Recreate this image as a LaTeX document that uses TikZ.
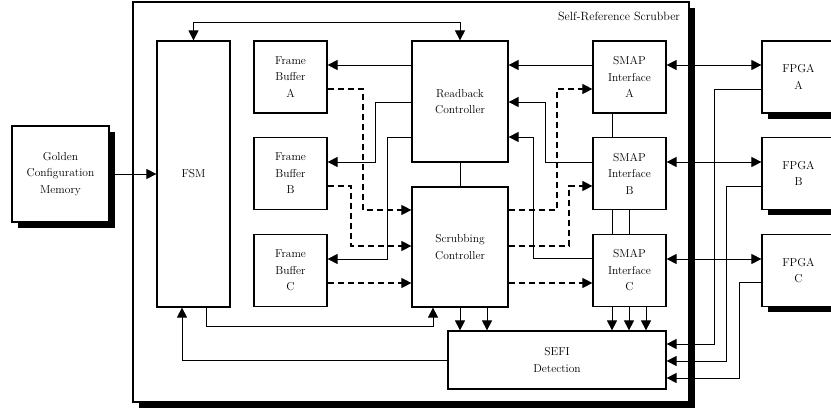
\documentclass[tikz,border=0pt]{standalone}
\usepackage{tikz}
\usetikzlibrary{arrows.meta,shadows}

\begin{document}
\begin{tikzpicture}[
    x=1pt, y=1pt,
    box/.style={rectangle,draw,line width=1.2pt,fill=white,align=center,inner sep=0pt,font=\fontsize{11.5}{16.5}\selectfont},
    shadowbox/.style={box,drop shadow={shadow xshift=6pt,shadow yshift=-6pt,opacity=1,fill=black}},
    unitbox/.style={box,minimum width=73pt,minimum height=72pt},
    ctrlbox/.style={box,minimum width=96pt},
    arrow/.style={-{Triangle[length=10pt,width=10pt]},line width=0.8pt},
    dblarrow/.style={{Triangle[length=10pt,width=10pt]}-{Triangle[length=10pt,width=10pt]},line width=0.8pt},
    dasharrow/.style={arrow,line width=1.1pt,dash pattern=on 6pt off 4pt},
    link/.style={line width=0.8pt}
]
\useasboundingbox (0,0) rectangle (831,410);

% Scrubber frame
\node[shadowbox,minimum width=556pt,minimum height=400pt] (scrubber) at (411,208) {};
\node[anchor=east,font=\fontsize{12}{14}\selectfont] (title) at ([xshift=-6pt,yshift=-15pt]scrubber.north east) {Self-Reference Scrubber};

% Memory and FSM
\node[shadowbox,minimum width=97pt,minimum height=96pt] (golden) at (60.5,236) {Golden\\Configuration\\Memory};
\node[box,minimum width=73pt,minimum height=266pt] (fsm) at (193.5,236) {FSM};

% Frame buffers
\node[unitbox] (fbA) at (290.5,333) {Frame\\Buffer\\A};
\node[unitbox] (fbB) at (290.5,236.5) {Frame\\Buffer\\B};
\node[unitbox] (fbC) at (290.5,139.5) {Frame\\Buffer\\C};

% Controllers
\node[ctrlbox,minimum height=121pt] (readback) at (460,308.5) {Readback\\Controller};
\node[ctrlbox,minimum height=120pt] (scrubbing) at (460,163) {Scrubbing\\Controller};

% SMAP interfaces
\node[unitbox] (smapA) at (629.5,333) {SMAP\\Interface\\A};
\node[unitbox] (smapB) at (629.5,236.5) {SMAP\\Interface\\B};
\node[unitbox] (smapC) at (629.5,139.5) {SMAP\\Interface\\C};

\node[box,minimum width=218pt,minimum height=58pt] (sefi) at (557,50) {SEFI\\Detection};

% FPGAs
\node[shadowbox,minimum width=73pt,minimum height=72pt] (fpgaA) at (798.5,333) {FPGA\\A};
\node[shadowbox,minimum width=73pt,minimum height=72pt] (fpgaB) at (798.5,236.5) {FPGA\\B};
\node[shadowbox,minimum width=73pt,minimum height=72pt] (fpgaC) at (798.5,139.5) {FPGA\\C};

% FSM links
\draw[arrow] (golden.east) -- (fsm.west);
\draw[dblarrow] (readback.north) -- (readback.north |- 0,388) -| (fsm.north);
\draw[arrow] (sefi.west) -| (fsm.south -| 182,0);
\draw[arrow] (fsm.south -| 206,0) |- (433,84) -- (scrubbing.south -| 433,0);

% Readback to frame buffers
\draw[arrow] (readback.west |- 0,345) -- (fbA.east |- 0,345);
\draw[arrow] (readback.west |- 0,308) -| (375,248) -- (fbB.east |- 0,248);
\draw[arrow] (readback.west |- 0,273) -| (387,151) -- (fbC.east |- 0,151);

% Frame buffers to scrubbing
\draw[dasharrow] (fbA.east |- 0,321) -| (363,200) -- (scrubbing.west |- 0,200);
\draw[dasharrow] (fbB.east |- 0,224) -| (351,164) -- (scrubbing.west |- 0,164);
\draw[dasharrow] (fbC.east |- 0,127) -- (scrubbing.west |- 0,127);
\draw[link] (readback.south) -- (scrubbing.north);

% SMAP to readback
\draw[arrow] (smapA.west |- 0,345) -- (readback.east |- 0,345);
\draw[arrow] (smapB.west |- 0,248) -| (545,308) -- (readback.east |- 0,308);
\draw[arrow] (smapC.west |- 0,152) -| (533,273) -- (readback.east |- 0,273);

% Scrubbing to SMAP
\draw[dasharrow] (scrubbing.east |- 0,200) -| (557,321) -- (smapA.west |- 0,321);
\draw[dasharrow] (scrubbing.east |- 0,164) -| (569,224) -- (smapB.west |- 0,224);
\draw[dasharrow] (scrubbing.east |- 0,127) -- (smapC.west |- 0,127);

\draw[link] (smapA.south -| 612,0) -- (smapB.north -| 612,0);
\draw[link] (smapB.south -| 612,0) -- (smapC.north -| 612,0);
\draw[link] (smapB.south -| 629,0) -- (smapC.north -| 629,0);

% SMAP to FPGA
\draw[dblarrow] (smapA.east |- 0,345) -- (fpgaA.west |- 0,345);
\draw[dblarrow] (smapB.east |- 0,248) -- (fpgaB.west |- 0,248);
\draw[dblarrow] (smapC.east |- 0,151) -- (fpgaC.west |- 0,151);

% SEFI inputs
\draw[arrow] (fpgaA.west |- 0,321) -| (714,66) -- (sefi.east |- 0,66);
\draw[arrow] (fpgaB.west |- 0,224) -| (726,49) -- (sefi.east |- 0,49);
\draw[arrow] (fpgaC.west |- 0,128) -| (739,32) -- (sefi.east |- 0,32);
\draw[arrow] (scrubbing.south -| 460,0) -- (sefi.north -| 460,0);
\draw[arrow] (scrubbing.south -| 487,0) -- (sefi.north -| 487,0);
\draw[arrow] (smapC.south -| 612,0) -- (sefi.north -| 612,0);
\draw[arrow] (smapC.south -| 629,0) -- (sefi.north -| 629,0);
\draw[arrow] (smapC.south -| 646,0) -- (sefi.north -| 646,0);
\end{tikzpicture}
\end{document}
